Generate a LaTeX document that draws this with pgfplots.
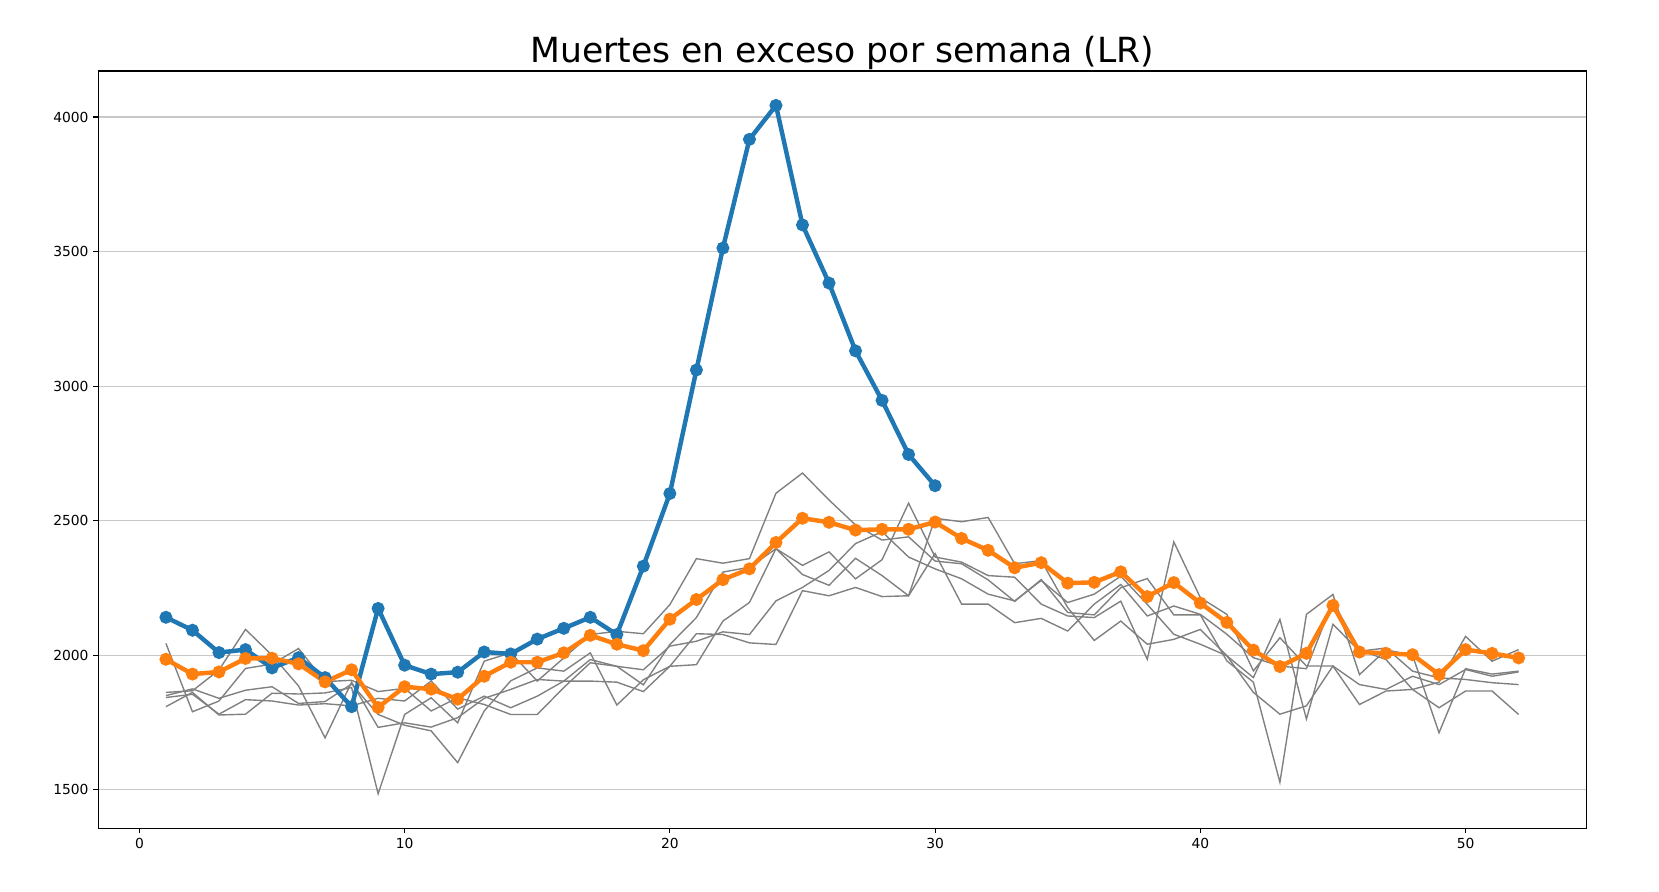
\documentclass[border=0pt]{standalone}
\usepackage{fontspec}
\setmainfont{DejaVu Sans}
\usepackage{pgfplots}
\usepackage{pgfplotstable}
\pgfplotsset{compat=1.18}
\definecolor{mblue}{HTML}{1F77B4}
\definecolor{morange}{HTML}{FF7F0E}
\definecolor{mgrey}{HTML}{808080}
\definecolor{gridc}{HTML}{C8C8C8}

\pgfplotstableread{
w g1 g2 g3 g4 g5
1 1862 2044 1850 1843 1809
2 1868 1790 1875 1855 1862
3 1945 1830 1840 1781 1778
4 2096 1951 1870 1835 1781
5 2000 1967 1883 1830 1859
6 1886 2025 1821 1815 1856
7 1693 1902 1828 1820 1860
8 1900 1907 1893 1812 1880
9 1732 1865 1780 1840 1485
10 1749 1877 1740 1830 1780
11 1733 1793 1719 1904 1842
12 1768 1842 1601 1800 1749
13 1840 1817 1793 1848 1978
14 1873 1780 1905 1805 2009
15 1910 1780 1953 1848 1904
16 1904 1880 1941 1904 1990
17 1984 1972 2009 1904 2077
18 1959 1959 1815 1900 2089
19 1946 1890 1909 1865 2080
20 2034 2040 1959 1959 2188
21 2052 2140 1965 2080 2359
22 2087 2309 2127 2077 2342
23 2077 2327 2196 2046 2359
24 2202 2396 2396 2040 2602
25 2252 2334 2300 2240 2677
26 2315 2384 2260 2221 2577
27 2415 2284 2360 2252 2484
28 2459 2355 2296 2218 2428
29 2365 2565 2221 2221 2440
30 2321 2365 2509 2378 2350
31 2284 2346 2496 2190 2340
32 2227 2296 2512 2190 2280
33 2202 2290 2340 2121 2200
34 2278 2190 2352 2137 2281
35 2196 2146 2177 2090 2159
36 2227 2140 2055 2190 2150
37 2294 2201 2127 2263 2251
38 2189 1985 2041 2146 2285
39 2078 2421 2059 2183 2150
40 2041 2214 2096 2152 2150
41 1998 2152 1998 2078 1979
42 1862 1942 1917 1991 1900
43 1781 2065 2133 1960 1528
44 1812 1960 1763 1950 2152
45 1960 1960 2115 2200 2226
46 1891 1817 2015 2020 1928
47 1873 1867 2027 1984 2020
48 1922 1873 1941 1873 2000
49 1891 1805 1916 1900 1712
50 1947 1867 1910 2070 1950
51 1922 1867 1898 1978 1930
52 1938 1780 1891 2021 1941
}\greydata

\pgfplotstableread{
w v
1 2141
2 2093
3 2010
4 2021
5 1953
6 1991
7 1917
8 1809
9 2174
10 1963
11 1930
12 1937
13 2012
14 2005
15 2060
16 2100
17 2141
18 2077
19 2331
20 2601
21 3060
22 3513
23 3917
24 4043
25 3599
26 3383
27 3131
28 2947
29 2746
30 2630
}\bluedata

\pgfplotstableread{
w v
1 1985
2 1930
3 1938
4 1988
5 1989
6 1968
7 1901
8 1946
9 1806
10 1883
11 1874
12 1837
13 1922
14 1974
15 1974
16 2009
17 2074
18 2041
19 2017
20 2134
21 2207
22 2281
23 2321
24 2419
25 2509
26 2494
27 2465
28 2468
29 2468
30 2495
31 2434
32 2390
33 2325
34 2344
35 2268
36 2271
37 2310
38 2218
39 2270
40 2194
41 2122
42 2019
43 1958
44 2007
45 2185
46 2012
47 2007
48 2002
49 1928
50 2021
51 2007
52 1990
}\orangedata

\begin{document}
\begin{tikzpicture}
\path[use as bounding box] (0,0) rectangle (16.59in,8.92in);
\begin{axis}[
  at={(0.983in,0.637in)}, anchor=south west,
  scale only axis, width=14.88in, height=7.573in,
  xmin=-1.55, xmax=54.55, ymin=1357, ymax=4171,
  xtick={0,10,20,30,40,50},
  ytick={1500,2000,2500,3000,3500,4000},
  ymajorgrids,
  major grid style={line width=0.8bp, color=gridc},
  tick align=outside, tick pos=left,
  major tick length=3.5bp,
  tick style={line width=0.8bp, black},
  axis line style={line width=0.8bp, black},
  ticklabel style={font=\fontsize{10}{12}\selectfont},
  /pgf/number format/assume math mode=true,
  /pgf/number format/1000 sep={},
  title={Muertes en exceso por semana (LR)},
  title style={at={(0.5,1)}, anchor=south, yshift=-5.5bp, inner sep=0pt,
    font=\fontsize{25}{30}\selectfont},
]
\foreach \c in {g1,g2,g3,g4,g5}{
  \addplot[mgrey, line width=1bp, no markers] table[x=w, y=\c] {\greydata};
}
\addplot[mblue, line width=3.2bp, mark=*, mark size=3bp, mark options={solid}] table[x=w, y=v] {\bluedata};
\addplot[morange, line width=3.2bp, mark=*, mark size=3bp, mark options={solid}] table[x=w, y=v] {\orangedata};
\end{axis}
\end{tikzpicture}
\end{document}
